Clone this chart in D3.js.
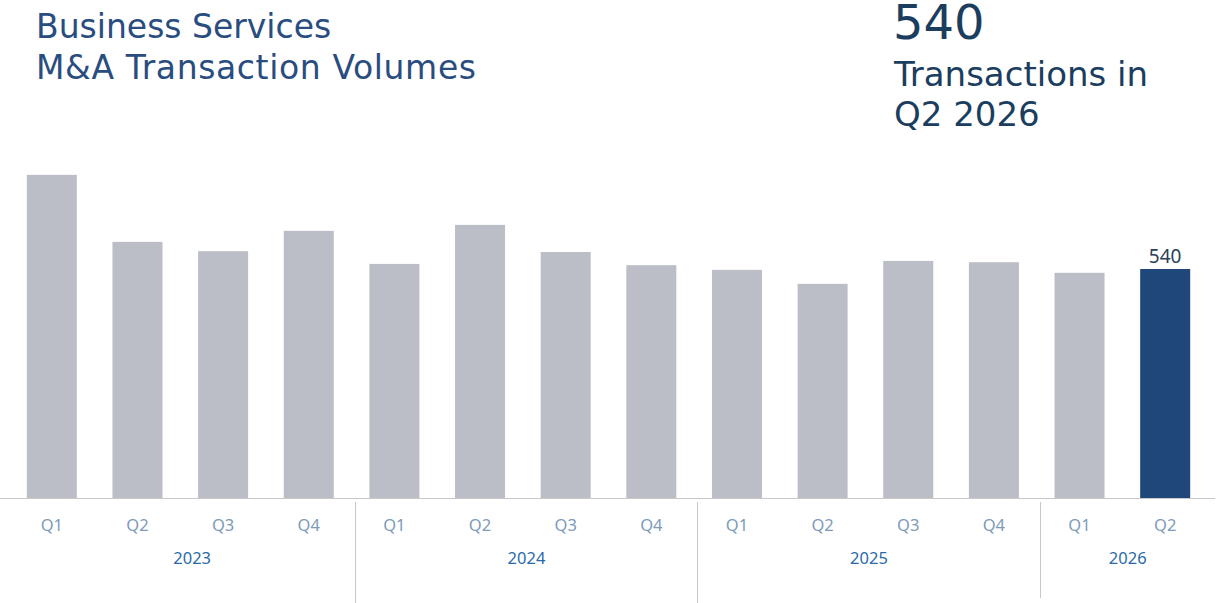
<!DOCTYPE html>
<meta charset="utf-8">
<script src="https://d3js.org/d3.v7.min.js"></script>
<style>
  body { margin: 0; background: #fff; }
</style>
<div id="chart"></div>
<script>
// quarterly deal counts
var quarters = ["Q1","Q2","Q3","Q4","Q1","Q2","Q3","Q4","Q1","Q2","Q3","Q4","Q1","Q2"];
var years = ["2023","2023","2023","2023","2024","2024","2024","2024","2025","2025","2025","2025","2026","2026"];
var volumes = [762, 604, 582, 630, 552, 644, 580, 549, 538, 505, 559, 556, 531, 540];
var yearLabels = ["2023","2024","2025","2026"];

var width = 1217, height = 603;
var baseY = 498;

var svg = d3.select("#chart").append("svg")
  .attr("width", width)
  .attr("height", height);

var keys = volumes.map(function(d, i) { return i; });

var x = d3.scaleBand()
  .domain(keys)
  .range([9, 1208])
  .paddingInner(0.416)
  .paddingOuter(0.208);

var y = d3.scaleLinear()
  .domain([0, 540])
  .range([baseY, 269]);

// bars
svg.selectAll(".bar")
  .data(volumes)
  .enter().append("rect")
    .attr("class", "bar")
    .attr("x", function(d, i) { return x(i); })
    .attr("y", function(d) { return y(d); })
    .attr("width", x.bandwidth())
    .attr("height", function(d) { return baseY - y(d); })
    .style("fill", function(d, i) { return i === volumes.length - 1 ? "#1f477a" : "#bbbec6"; });

// label on last bar
var last = volumes.length - 1;
svg.append("text")
  .attr("x", x(last) + x.bandwidth() / 2)
  .attr("y", y(volumes[last]) - 6)
  .attr("text-anchor", "middle")
  .style("font-family", "'Noto Sans', sans-serif")
  .style("font-size", "19px")
  .style("fill", "#2b3f57")
  .text(volumes[last]);

// baseline
svg.append("line")
  .attr("x1", 0).attr("x2", 1215)
  .attr("y1", baseY + 0.5).attr("y2", baseY + 0.5)
  .style("stroke", "#c8c8c8")
  .style("stroke-width", 1);

// quarter labels
svg.selectAll(".qlab")
  .data(quarters)
  .enter().append("text")
    .attr("class", "qlab")
    .attr("x", function(d, i) { return x(i) + x.bandwidth() / 2; })
    .attr("y", 531)
    .attr("text-anchor", "middle")
    .style("font-family", "'Noto Sans', sans-serif")
    .style("font-size", "16.5px")
    .style("fill", "#7e9bb9")
    .text(function(d) { return d; });

// year groups: separator lines between groups, label centred in its group
var step = x.step();
var edges = [];
yearLabels.forEach(function(yr, j) {
  var idx = years.map(function(v, i) { return v === yr ? i : -1; }).filter(function(i) { return i >= 0; });
  var first = idx[0];
  edges.push(j === 0 ? x(first) + 2 : Math.round(x(first) - (step - x.bandwidth()) / 2) + 3.5);
});
edges.push(1215);

yearLabels.forEach(function(yr, j) {
  svg.append("text")
    .attr("x", (edges[j] + edges[j + 1]) / 2)
    .attr("y", 564)
    .attr("text-anchor", "middle")
    .style("font-family", "'Noto Sans', sans-serif")
    .style("font-size", "16.5px")
    .style("fill", "#2b6aa8")
    .text(yr);
  if (j > 0) {
    svg.append("line")
      .attr("x1", edges[j]).attr("x2", edges[j])
      .attr("y1", 502).attr("y2", j === yearLabels.length - 1 ? 598 : 603)
      .style("stroke", "#c8c8c8")
      .style("stroke-width", 1);
  }
});

// title
var title = svg.append("text")
  .style("font-family", "'DejaVu Sans', sans-serif")
  .style("font-size", "33px")
  .style("fill", "#2a4d7f");
title.append("tspan").attr("x", 36).attr("y", 38).text("Business Services");
title.append("tspan").attr("x", 36).attr("y", 79)
  .attr("textLength", 440).attr("lengthAdjust", "spacing")
  .text("M&A Transaction Volumes");

// callout
svg.append("text")
  .attr("x", 893).attr("y", 39)
  .style("font-family", "'DejaVu Sans', sans-serif")
  .style("font-size", "48px")
  .style("fill", "#1b3d5e")
  .text("540");
var callout = svg.append("text")
  .style("font-family", "'DejaVu Sans', sans-serif")
  .style("font-size", "34px")
  .style("fill", "#1b3d5e");
callout.append("tspan").attr("x", 894).attr("y", 86).text("Transactions in");
callout.append("tspan").attr("x", 894).attr("y", 126).text("Q2 2026");
</script>
